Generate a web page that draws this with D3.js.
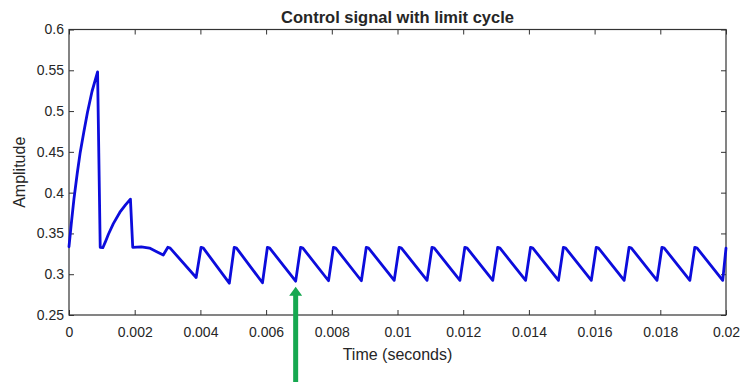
<!DOCTYPE html>
<html>
<head>
<meta charset="utf-8">
<script src="https://cdn.jsdelivr.net/npm/d3@7"></script>
<style>
  html, body { margin: 0; padding: 0; background: #ffffff; }
  svg { display: block; }
  text { font-family: "Liberation Sans", Arial, Helvetica, sans-serif; fill: #262626; }
</style>
</head>
<body>
<svg id="chart" width="742" height="382"></svg>
<script>
// Control signal samples (vertices of the piecewise trace)
const timeSeconds = [
  0, 0.00007, 0.00015, 0.00025, 0.00034, 0.00045, 0.00056, 0.00070, 0.00087, 0.00095,
  0.00103, 0.00110, 0.00120, 0.00135, 0.00155, 0.00172, 0.00187, 0.00194,
  0.00220, 0.00245, 0.00267, 0.00287, 0.00301, 0.00308,
  0.00387, 0.00402, 0.00409,
  0.00488, 0.00503, 0.00510,
  0.00589, 0.00604, 0.00611,
  0.00690, 0.00705, 0.00712,
  0.00790, 0.00805, 0.00812,
  0.00890, 0.00905, 0.00912,
  0.00990, 0.01005, 0.01012,
  0.01090, 0.01105, 0.01112,
  0.01190, 0.01205, 0.01212,
  0.01290, 0.01305, 0.01312,
  0.01390, 0.01405, 0.01412,
  0.01490, 0.01505, 0.01512,
  0.01590, 0.01605, 0.01612,
  0.01690, 0.01705, 0.01712,
  0.01790, 0.01805, 0.01812,
  0.01890, 0.01905, 0.01912,
  0.01990, 0.02000
];
const amplitude = [
  0.3337, 0.362, 0.392, 0.4235, 0.449, 0.474, 0.498, 0.524, 0.548, 0.333,
  0.3325, 0.339, 0.349, 0.362, 0.376, 0.385, 0.392, 0.333,
  0.3335, 0.332, 0.3276, 0.3235, 0.333, 0.332,
  0.296, 0.333, 0.332,
  0.289, 0.333, 0.332,
  0.2895, 0.333, 0.332,
  0.2915, 0.333, 0.332,
  0.292, 0.333, 0.332,
  0.292, 0.333, 0.332,
  0.2925, 0.333, 0.332,
  0.2925, 0.333, 0.332,
  0.2925, 0.333, 0.332,
  0.2925, 0.333, 0.332,
  0.2925, 0.333, 0.332,
  0.2925, 0.333, 0.332,
  0.2925, 0.333, 0.332,
  0.2925, 0.333, 0.332,
  0.2925, 0.333, 0.332,
  0.2925, 0.333, 0.332,
  0.2925, 0.332
];

const xTickValues = [0, 0.002, 0.004, 0.006, 0.008, 0.01, 0.012, 0.014, 0.016, 0.018, 0.02];
const xTickLabels = ["0", "0.002", "0.004", "0.006", "0.008", "0.01", "0.012", "0.014", "0.016", "0.018", "0.02"];
const yTickValues = [0.25, 0.3, 0.35, 0.4, 0.45, 0.5, 0.55, 0.6];
const yTickLabels = ["0.25", "0.3", "0.35", "0.4", "0.45", "0.5", "0.55", "0.6"];

// Marker pointing at the limit-cycle minimum
const arrowTime = [0.0069];
const arrowValue = [0.2915];

const titleText = "Control signal with limit cycle";
const xLabelText = "Time (seconds)";
const yLabelText = "Amplitude";

const margin = { left: 69, right: 16, top: 29.5, bottom: 67 };
const width = 742, height = 382;

const svg = d3.select("#chart");

const x = d3.scaleLinear().domain([0, 0.02]).range([margin.left, width - margin.right]);
const y = d3.scaleLinear().domain([0.25, 0.6]).range([height - margin.bottom, margin.top]);

const axisColor = "#333333";

function styleAxis(g) {
  g.selectAll(".domain").remove();
  g.selectAll(".tick line").attr("stroke", axisColor).attr("stroke-width", 1);
  g.selectAll(".tick text")
    .attr("fill", "#262626")
    .style("font-size", "14px")
    .style("font-family", "'Liberation Sans', Arial, Helvetica, sans-serif");
}

// Bottom axis with labels
svg.append("g")
  .attr("transform", `translate(0,${y(0.25)})`)
  .call(d3.axisBottom(x).tickValues(xTickValues)
    .tickFormat((d, i) => xTickLabels[i])
    .tickSizeInner(-5).tickSizeOuter(0).tickPadding(12))
  .call(styleAxis);

// Top axis (ticks only)
svg.append("g")
  .attr("transform", `translate(0,${y(0.6)})`)
  .call(d3.axisTop(x).tickValues(xTickValues)
    .tickFormat(() => "").tickSizeInner(-5).tickSizeOuter(0))
  .call(styleAxis);

// Left axis with labels
svg.append("g")
  .attr("transform", `translate(${x(0)},0)`)
  .call(d3.axisLeft(y).tickValues(yTickValues)
    .tickFormat((d, i) => yTickLabels[i])
    .tickSizeInner(-5).tickSizeOuter(0).tickPadding(5))
  .call(styleAxis);

// Right axis (ticks only)
svg.append("g")
  .attr("transform", `translate(${x(0.02)},0)`)
  .call(d3.axisRight(y).tickValues(yTickValues)
    .tickFormat(() => "").tickSizeInner(-5).tickSizeOuter(0))
  .call(styleAxis);

// Axes box
svg.append("rect")
  .attr("x", x(0)).attr("y", y(0.6))
  .attr("width", x(0.02) - x(0)).attr("height", y(0.25) - y(0.6))
  .attr("fill", "none").attr("stroke", axisColor).attr("stroke-width", 1.2);

// Signal trace
const points = timeSeconds.map((t, i) => [t, amplitude[i]]);
const line = d3.line().x(d => x(d[0])).y(d => y(d[1]));
svg.append("path")
  .datum(points)
  .attr("d", line)
  .attr("fill", "none")
  .attr("stroke", "#0c0cdc")
  .attr("stroke-width", 2.8)
  .attr("stroke-linejoin", "round")
  .attr("stroke-linecap", "round");

// Title and axis labels
svg.append("text")
  .attr("x", (x(0) + x(0.02)) / 2).attr("y", 22.5)
  .attr("text-anchor", "middle")
  .style("font-size", "16.5px").style("font-weight", "bold")
  .attr("fill", "#000000")
  .text(titleText);

svg.append("text")
  .attr("x", (x(0) + x(0.02)) / 2).attr("y", 360)
  .attr("text-anchor", "middle")
  .style("font-size", "16px")
  .text(xLabelText);

svg.append("text")
  .attr("transform", `translate(25,${(y(0.25) + y(0.6)) / 2}) rotate(-90)`)
  .attr("text-anchor", "middle")
  .style("font-size", "16px")
  .text(yLabelText);

// Green arrow annotation
const ax = x(arrowTime[0]);
const tipY = y(arrowValue[0]) + 5.5;
const headH = 9, headW = 13, shaftW = 5;
svg.append("path")
  .attr("d", [
    `M${ax},${tipY}`,
    `L${ax + headW / 2},${tipY + headH}`,
    `L${ax + shaftW / 2},${tipY + headH}`,
    `L${ax + shaftW / 2},${height}`,
    `L${ax - shaftW / 2},${height}`,
    `L${ax - shaftW / 2},${tipY + headH}`,
    `L${ax - headW / 2},${tipY + headH}`,
    "Z"
  ].join(" "))
  .attr("fill", "#16a850");
</script>
</body>
</html>
